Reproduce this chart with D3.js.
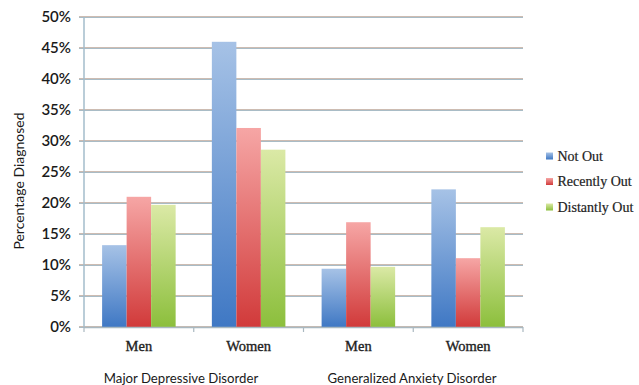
<!DOCTYPE html>
<html><head><meta charset="utf-8">
<script src="https://cdn.jsdelivr.net/npm/d3@7"></script>
<style>
html,body{margin:0;padding:0;background:#fff;}
svg{display:block;}
</style></head>
<body>
<svg id="chart" width="639" height="385"></svg>
<script>
const categories = ["MDD Men","MDD Women","GAD Men","GAD Women"];
const categoryLabels = ["Men","Women","Men","Women"];
const groupLabels = ["Major Depressive Disorder","Generalized Anxiety Disorder"];
const seriesNames = ["Not Out","Recently Out","Distantly Out"];
const notOut = [13.2, 46.0, 9.4, 22.2];
const recentlyOut = [21.0, 32.1, 16.9, 11.1];
const distantlyOut = [19.7, 28.6, 9.7, 16.1];
const yTicks = [0,5,10,15,20,25,30,35,40,45,50];
const yTitle = "Percentage Diagnosed";

(function(){
const seriesValues = [notOut, recentlyOut, distantlyOut];
const colors = [
  {top:"#a6c2e6", bot:"#3f78c4"},
  {top:"#f6a6a5", bot:"#d13a3a"},
  {top:"#dbe9a6", bot:"#8cbf3c"}
];

const svg = d3.select("#chart");
const mL = 84, mR = 523, mT = 17, mB = 327;

const x = d3.scaleBand().domain(categories).range([mL,mR]).paddingInner(0.33).paddingOuter(0.165);
const xs = d3.scaleBand().domain(seriesNames).range([0,x.bandwidth()]);
const y = d3.scaleLinear().domain([0,50]).range([mB,mT]);

const defs = svg.append("defs");
colors.forEach((c,i)=>{
  const g = defs.append("linearGradient").attr("id","g"+i).attr("x1",0).attr("y1",0).attr("x2",0).attr("y2",1);
  g.append("stop").attr("offset","0%").attr("stop-color",c.top);
  g.append("stop").attr("offset","100%").attr("stop-color",c.bot);
});

// gridlines
const grid = svg.append("g");
yTicks.forEach(t=>{
  const yy = Math.round(y(t));
  grid.append("line").attr("x1",mL-5).attr("x2",mR).attr("y1",yy-0.5).attr("y2",yy-0.5)
    .attr("stroke","#cdbcb2").attr("stroke-width",1);
  grid.append("line").attr("x1",mL-5).attr("x2",mR).attr("y1",yy+0.5).attr("y2",yy+0.5)
    .attr("stroke","#a9bcc6").attr("stroke-width",1);
});

// y axis line
svg.append("line").attr("x1",mL).attr("x2",mL).attr("y1",mT).attr("y2",mB)
  .attr("stroke","#a3bccb").attr("stroke-width",1.5);

// y tick labels
svg.append("g").selectAll("text").data(yTicks).join("text")
  .attr("x",71).attr("y",d=>y(d)).attr("dy","0.36em").attr("text-anchor","end")
  .attr("font-family","Lato, 'Liberation Sans', sans-serif").attr("font-size",15).attr("font-weight",600)
  .attr("fill","#1a1a1a").text(d=>d+"%");

// bars
const bars = svg.append("g");
seriesValues.forEach((vals,si)=>{
  bars.selectAll(".s"+si).data(vals).join("rect").attr("class","s"+si)
    .attr("x",(d,i)=>x(categories[i])+xs(seriesNames[si]))
    .attr("width",xs.bandwidth())
    .attr("y",d=>y(d))
    .attr("height",d=>y(0)-y(d))
    .attr("fill","url(#g"+si+")");
});

// x axis
const xAxisG = svg.append("g");
xAxisG.append("line").attr("x1",mL).attr("x2",mR).attr("y1",mB+0.5).attr("y2",mB+0.5)
  .attr("stroke","#a9b8c0").attr("stroke-width",1.5);
const tickXs = categories.map(c=>x(c)-x.step()*x.paddingInner()/2).concat([mR]);
xAxisG.selectAll(".tk").data(tickXs).join("line").attr("class","tk")
  .attr("x1",d=>d).attr("x2",d=>d).attr("y1",mB).attr("y2",mB+5)
  .attr("stroke","#a9b8c0").attr("stroke-width",1.2);

// category labels
svg.append("g").selectAll("text").data(categories).join("text")
  .attr("x",d=>x(d)+x.bandwidth()/2).attr("y",346).attr("dy","0.35em").attr("text-anchor","middle")
  .attr("font-family","'Liberation Serif', serif").attr("font-size",14.5)
  .attr("fill","#222").attr("stroke","#222").attr("stroke-width",0.35).text((d,i)=>categoryLabels[i]);

// group labels
const groupX = [181, 412];
svg.append("g").selectAll("text").data(groupLabels).join("text")
  .attr("x",(d,i)=>groupX[i]).attr("y",378).attr("dy","0.35em").attr("text-anchor","middle")
  .attr("font-family","Lato, 'Liberation Sans', sans-serif").attr("font-size",13.2)
  .attr("fill","#1a1a1a").text(d=>d);

// y title
svg.append("text").attr("transform","translate(19,181) rotate(-90)").attr("dy","0.35em")
  .attr("text-anchor","middle").attr("font-family","Lato, 'Liberation Sans', sans-serif")
  .attr("font-size",14).attr("fill","#1a1a1a").text(yTitle);

// legend
const lg = svg.append("g");
seriesNames.forEach((n,i)=>{
  const yy = 156 + i*25.5;
  lg.append("rect").attr("x",546).attr("y",yy-3.5).attr("width",7).attr("height",7).attr("fill","url(#g"+i+")");
  lg.append("text").attr("x",557.5).attr("y",yy).attr("dy","0.35em")
    .attr("font-family","'Liberation Serif', serif").attr("font-size",14).attr("fill","#222")
    .attr("stroke","#222").attr("stroke-width",0.2).text(n);
});
})();
</script>
</body></html>
